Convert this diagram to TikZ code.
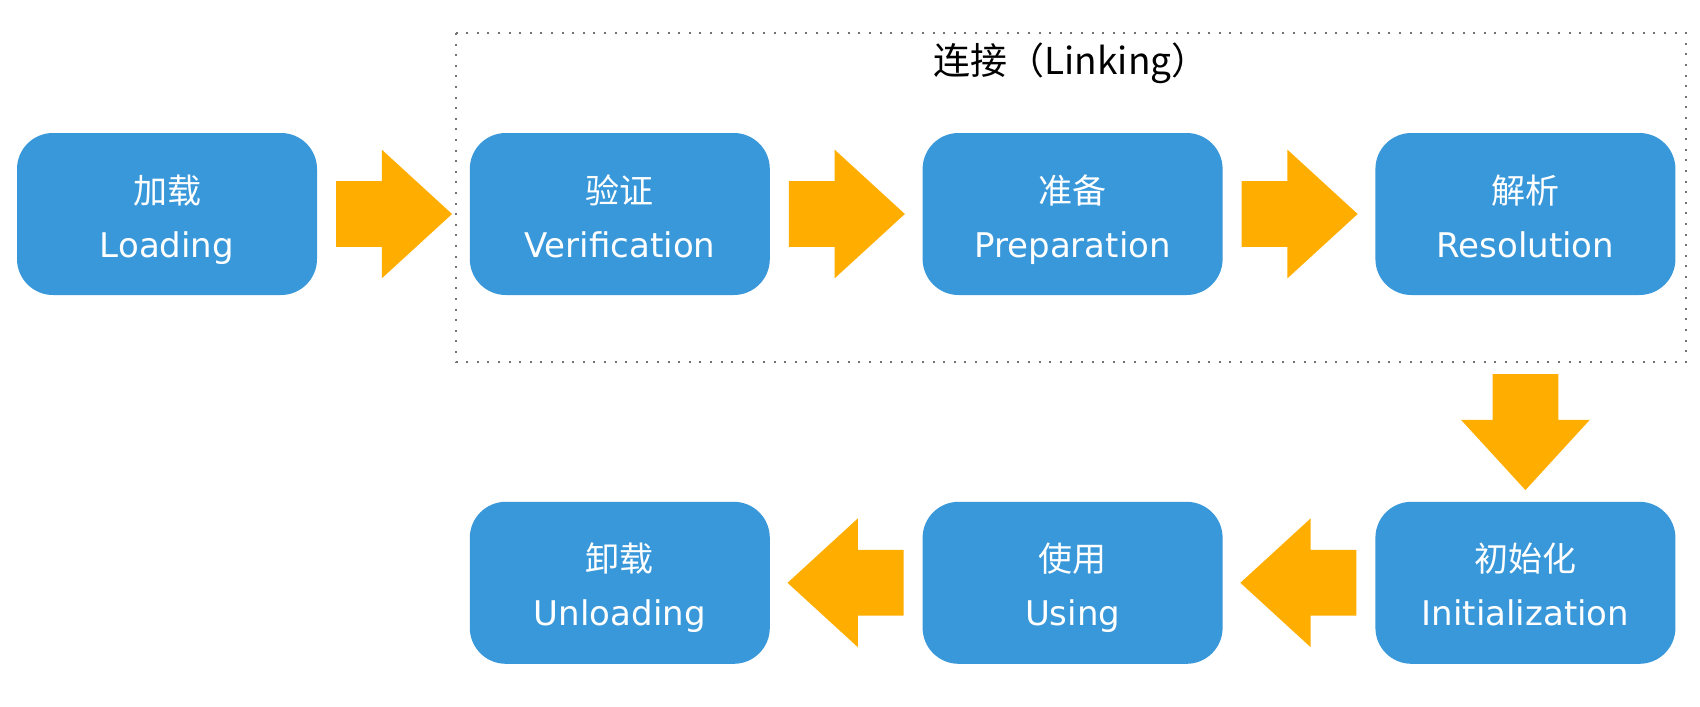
\documentclass[tikz,border=0pt]{standalone}
\usepackage{fontspec}
\setmainfont{DejaVu Sans}
\newfontfamily\cjk{Noto Sans CJK SC}
\usetikzlibrary{positioning,shapes.arrows}
\definecolor{stageblue}{RGB}{57,152,218}
\definecolor{flowyellow}{RGB}{255,174,0}
%two line label of a stage, Chinese above English
\newcommand{\stagelabel}[2]{\rule{0pt}{22pt}{\cjk #1}\\#2\rule[-6pt]{0pt}{6pt}}
\tikzset{
    %Define style for boxes
    stage/.style={
           rectangle,
           rounded corners=18pt,
           fill=stageblue,
           draw=none,
           text=white,
           minimum width=150pt,
           minimum height=81pt,
           inner sep=0pt,
           align=center,
           font=\fontsize{17}{27}\selectfont},
    %Define style for the fat arrows
    flow/.style={
           single arrow,
           fill=flowyellow,
           draw=none,
           inner xsep=0pt,
           inner ysep=16.25pt,
           minimum height=58pt,
           minimum width=64pt,
           single arrow head extend=15.75pt,
           single arrow tip angle=85,
           anchor=tail,
           pos=0.12,
           sloped,
           allow upside down},
    %Define style for the linking frame
    linkframe/.style={
           draw=black!55, line width=1pt,
           dash pattern=on 1pt off 4.3pt}
}

\begin{document}
\begin{tikzpicture}[x=0.5pt,y=-0.5pt,node distance=76pt]
\useasboundingbox (0,0) rectangle (1700,706);

 %nodes
\node[stage](load) at (167,214){\stagelabel{加载}{Loading}};
\node[stage, right=of load](verify){\stagelabel{验证}{Verification}};
\node[stage, right=of verify](prep){\stagelabel{准备}{Preparation}};
\node[stage, right=of prep](resol){\stagelabel{解析}{Resolution}};
\node[stage, below=103pt of resol](init){\stagelabel{初始化}{Initialization}};
\node[stage, left=of init](using){\stagelabel{使用}{Using}};
\node[stage, left=of using](unload){\stagelabel{卸载}{Unloading}};

 %linking frame
\draw[linkframe] (456,33) rectangle (1686,362);
\node[font=\cjk\fontsize{18.5}{22}\selectfont](linklabel) at (1071,63){连接（Linking）};

 %arrows
\path (load) -- node[flow]{} (verify);
\path (verify) -- node[flow]{} (prep);
\path (prep) -- node[flow]{} (resol);
\path (resol) -- node[flow, pos=0.38]{} (init);
\path (init) -- node[flow]{} (using);
\path (using) -- node[flow]{} (unload);

\end{tikzpicture}
\end{document}
